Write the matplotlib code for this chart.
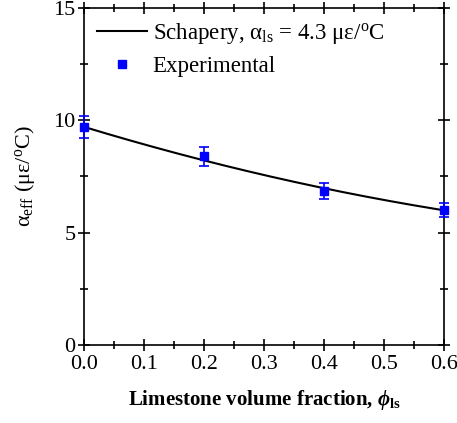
import numpy as np
import matplotlib.pyplot as plt

plt.rcParams['font.family'] = ['Liberation Serif', 'DejaVu Serif']
plt.rcParams['mathtext.fontset'] = 'custom'
plt.rcParams['mathtext.rm'] = 'Liberation Serif'
plt.rcParams['mathtext.it'] = 'Liberation Serif:italic'
plt.rcParams['mathtext.bf'] = 'Liberation Serif:bold'
plt.rcParams['mathtext.bfit'] = 'Liberation Serif:italic:bold'

# Schapery curve
phi_curve = [0.0, 0.1, 0.2, 0.3, 0.4, 0.5, 0.6]
alpha_curve = [9.7, 8.95, 8.2, 7.58, 6.97, 6.45, 6.0]

# experimental points
phi_exp = [0.0, 0.2, 0.4, 0.6]
alpha_exp = [9.7, 8.4, 6.85, 6.0]
alpha_err = [0.5, 0.43, 0.35, 0.3]

fig = plt.figure(figsize=(4.57, 4.23), dpi=100)
ax = fig.add_axes([84 / 457, 1 - 345 / 423, 360 / 457, 337 / 423])

# smooth the read points a bit for drawing
xs = np.linspace(0, 0.6, 200)
coef = np.polyfit(phi_curve, alpha_curve, 2)
ax.plot(xs, np.polyval(coef, xs), '-', color='k', linewidth=1.5,
        label='Schapery, α$_{\\rm ls}$ = 4.3 με/$^{\\rm o}$C')
ax.errorbar(phi_exp, alpha_exp, yerr=alpha_err, fmt='none', ecolor='#0000ff',
            capsize=3.5, elinewidth=1.2, capthick=1.2, clip_on=False, zorder=3)
ax.plot(phi_exp, alpha_exp, 's', color='#0000ff', markersize=6,
        label='Experimental', clip_on=False, zorder=4)

ax.set_xlim(0, 0.6)
ax.set_ylim(0, 15)
ax.set_xticks(np.arange(0, 0.61, 0.1))
ax.set_xticks(np.arange(0.05, 0.6, 0.1), minor=True)
ax.set_yticks([0, 5, 10, 15])
ax.set_yticks([2.5, 7.5, 12.5], minor=True)
ax.set_xticklabels(['0.0', '0.1', '0.2', '0.3', '0.4', '0.5', '0.6'])

ax.tick_params(which='both', direction='inout', labelsize=16, width=1.2)
ax.tick_params(which='major', length=8)
ax.tick_params(which='minor', length=6)
ax.tick_params(which='both', top=True, right=True)
ax.tick_params(axis='x', pad=3)
ax.tick_params(axis='y', pad=2)
for s in ax.spines.values():
    s.set_linewidth(1.2)

ax.set_ylabel('α$_{\\rm eff}$ (με/$^{\\rm o}$C)', fontsize=16, labelpad=12)
ax.set_xlabel('Limestone volume fraction, $\\mathbfit{\\phi}_{\\mathbf{ls}}$', fontsize=15,
              fontweight='bold', labelpad=10)

ax.legend(loc='upper left', frameon=False, fontsize=16.5, handlelength=2.2,
          borderaxespad=0.25, labelspacing=0.45, handletextpad=0.25,
          borderpad=0.3)

fig.savefig('out.png', dpi=100)
